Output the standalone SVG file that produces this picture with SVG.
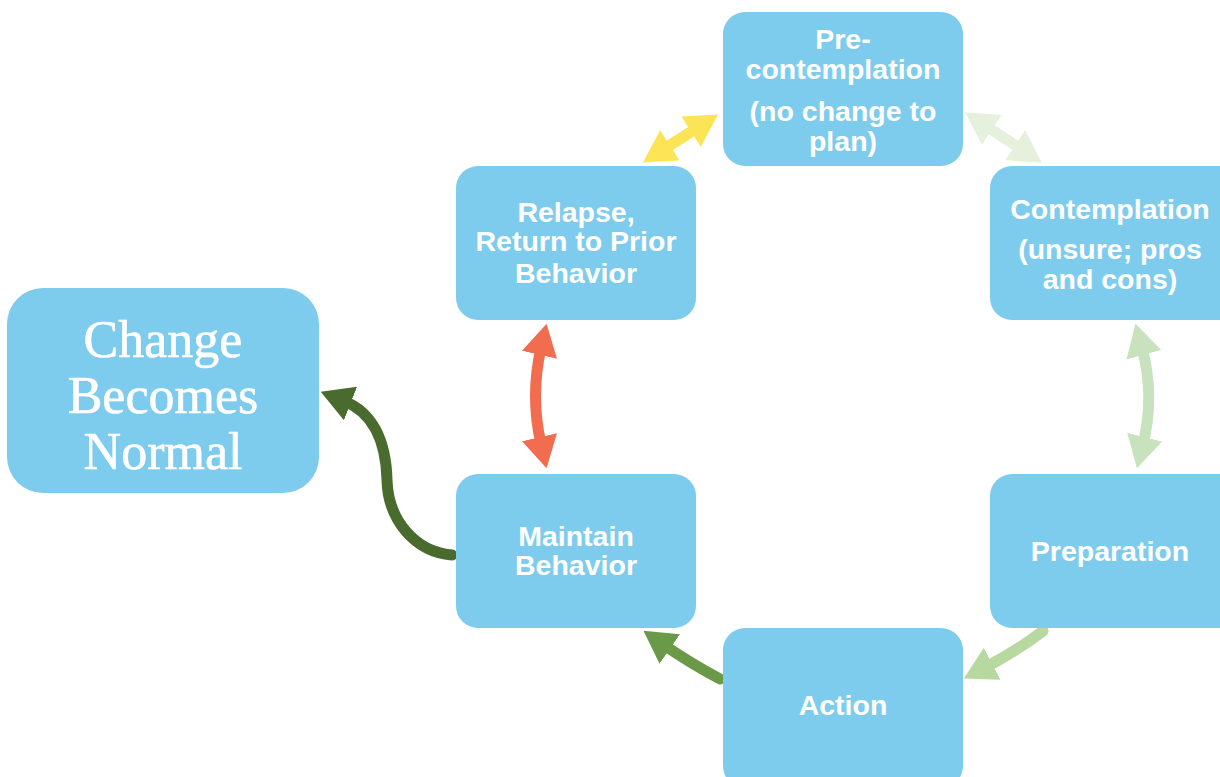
<svg xmlns="http://www.w3.org/2000/svg" width="1220" height="777" viewBox="0 0 1220 777">
<style>
.box{fill:#7ECCED}
.t{font-family:"Liberation Sans",Arial,sans-serif;font-weight:bold;font-size:28.5px;fill:#fff;text-anchor:middle}
.big{font-family:"Liberation Serif","DejaVu Serif",serif;font-size:52px;fill:#fff;text-anchor:middle;stroke:#fff;stroke-width:0.6}
.c{fill:none;stroke-width:11}
</style>
<defs>
<marker id="mY" markerUnits="userSpaceOnUse" markerWidth="32" markerHeight="36" refX="7" refY="18" orient="auto-start-reverse" viewBox="0 0 32 36"><path d="M0,0 L32,18 L0,36 z" fill="#FDE456"/></marker>
<marker id="mP" markerUnits="userSpaceOnUse" markerWidth="32" markerHeight="36" refX="7" refY="18" orient="auto-start-reverse" viewBox="0 0 32 36"><path d="M0,0 L32,18 L0,36 z" fill="#E6F1DD"/></marker>
<marker id="mL" markerUnits="userSpaceOnUse" markerWidth="32" markerHeight="36" refX="7" refY="18" orient="auto-start-reverse" viewBox="0 0 32 36"><path d="M0,0 L32,18 L0,36 z" fill="#C8E2BD"/></marker>
<marker id="mG" markerUnits="userSpaceOnUse" markerWidth="32" markerHeight="36" refX="7" refY="18" orient="auto" viewBox="0 0 32 36"><path d="M0,0 L32,18 L0,36 z" fill="#B7D89E"/></marker>
<marker id="mM" markerUnits="userSpaceOnUse" markerWidth="32" markerHeight="36" refX="7" refY="18" orient="auto" viewBox="0 0 32 36"><path d="M0,0 L32,18 L0,36 z" fill="#6A9A48"/></marker>
<marker id="mD" markerUnits="userSpaceOnUse" markerWidth="32" markerHeight="36" refX="7" refY="18" orient="auto" viewBox="0 0 32 36"><path d="M0,0 L32,18 L0,36 z" fill="#4A6B2E"/></marker>
<marker id="mR" markerUnits="userSpaceOnUse" markerWidth="32" markerHeight="36" refX="7" refY="18" orient="auto-start-reverse" viewBox="0 0 32 36"><path d="M0,0 L32,18 L0,36 z" fill="#F26D50"/></marker>
</defs>
<rect width="1220" height="777" fill="#fff"/>
<g id="connectors">
<path class="c" stroke="#FDE456" d="M664,149 L697,128" marker-start="url(#mY)" marker-end="url(#mY)"/>
<path class="c" stroke="#E6F1DD" d="M986,126 L1021,149" marker-start="url(#mP)" marker-end="url(#mP)"/>
<path class="c" stroke="#C8E2BD" d="M1142,348 Q1155,396 1143,444" marker-start="url(#mL)" marker-end="url(#mL)"/>
<path class="c" stroke="#B7D89E" stroke-linecap="round" d="M1043,631 Q1015,652 986,667" marker-end="url(#mG)"/>
<path class="c" stroke="#6A9A48" stroke-linecap="round" d="M720,679 Q690,663 664,645" marker-end="url(#mM)"/>
<path class="c" stroke="#F26D50" d="M541,348 Q530,396 541,444" marker-start="url(#mR)" marker-end="url(#mR)"/>
<path class="c" stroke="#4A6B2E" stroke-linecap="round" d="M452,555 C415,552 388,520 387,480 C386,440 372,412 344,401" marker-end="url(#mD)"/>
</g>
<g id="precontemplation">
<rect class="box" x="723" y="12" width="240" height="154" rx="22"/>
<text class="t" x="843" y="49">Pre-</text>
<text class="t" x="843" y="79">contemplation</text>
<text class="t" x="843" y="121">(no change to</text>
<text class="t" x="843" y="151">plan)</text>
</g>
<g id="contemplation">
<rect class="box" x="990" y="166" width="250" height="154" rx="22"/>
<text class="t" x="1110" y="219">Contemplation</text>
<text class="t" x="1110" y="259">(unsure; pros</text>
<text class="t" x="1110" y="289">and cons)</text>
</g>
<g id="preparation">
<rect class="box" x="990" y="474" width="250" height="154" rx="22"/>
<text class="t" x="1110" y="561">Preparation</text>
</g>
<g id="action">
<rect class="box" x="723" y="628" width="240" height="160" rx="22"/>
<text class="t" x="843" y="715">Action</text>
</g>
<g id="maintain">
<rect class="box" x="456" y="474" width="240" height="154" rx="22"/>
<text class="t" x="576" y="546">Maintain</text>
<text class="t" x="576" y="575">Behavior</text>
</g>
<g id="relapse">
<rect class="box" x="456" y="166" width="240" height="154" rx="22"/>
<text class="t" x="576" y="222">Relapse,</text>
<text class="t" x="576" y="251">Return to Prior</text>
<text class="t" x="576" y="283">Behavior</text>
</g>
<g id="normal">
<rect class="box" x="7" y="288" width="312" height="205" rx="36"/>
<text class="big" x="163" y="357">Change</text>
<text class="big" x="163" y="413">Becomes</text>
<text class="big" x="163" y="469">Normal</text>
</g>
</svg>
